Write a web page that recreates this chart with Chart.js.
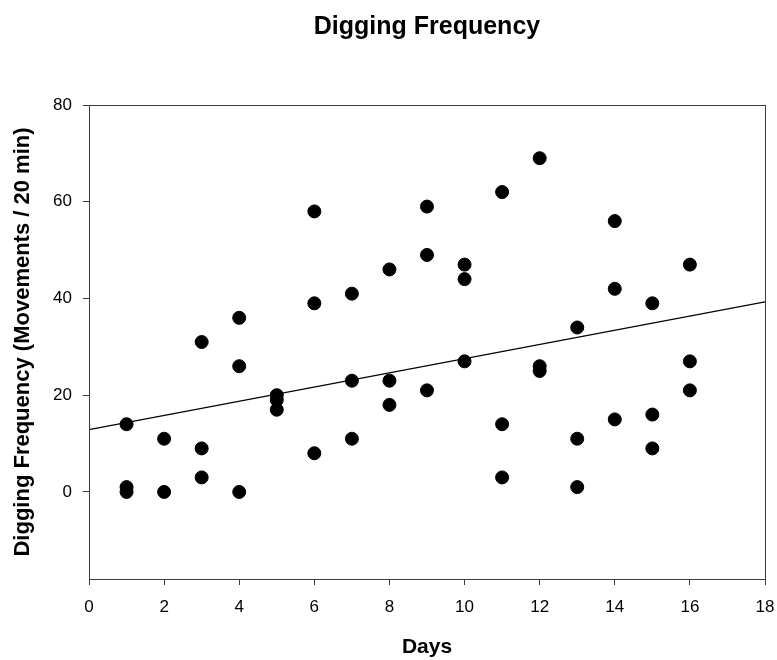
<!DOCTYPE html>
<html>
<head>
<meta charset="utf-8">
<script src="https://cdn.jsdelivr.net/npm/chart.js@4.4.1/dist/chart.umd.min.js"></script>
<style>
  html, body { margin: 0; padding: 0; background: #fff; }
  #wrap { width: 777px; height: 660px; }
</style>
</head>
<body>
<div id="wrap"><canvas id="DiggingChart" width="777" height="660"></canvas></div>
<script>
// Observations: day and digging frequency (movements / 20 min)
const days = [
  1, 1, 1,
  2, 2,
  3, 3, 3,
  4, 4, 4,
  5, 5, 5,
  6, 6, 6,
  7, 7, 7,
  8, 8, 8,
  9, 9, 9,
  10, 10, 10,
  11, 11, 11,
  12, 12, 12,
  13, 13, 13,
  14, 14, 14,
  15, 15, 15,
  16, 16, 16
];
const frequency = [
  14, 1, 0,
  11, 0,
  31, 9, 3,
  36, 26, 0,
  20, 19, 17,
  58, 39, 8,
  41, 23, 11,
  46, 23, 18,
  59, 49, 21,
  47, 44, 27,
  62, 14, 3,
  69, 26, 25,
  34, 11, 1,
  56, 42, 15,
  39, 16, 9,
  47, 27, 21
];

// Regression line end points
const fitX = [0, 18];
const fitY = [12.9, 39.3];

const xTicks = [0, 2, 4, 6, 8, 10, 12, 14, 16, 18];
const yTicks = [0, 20, 40, 60, 80];

const axisColor = '#3a3a3a';
const fontFamily = 'Liberation Sans, Arial, sans-serif';
const tickFont = { family: fontFamily, size: 17 };

// outline the whole plot area (top and right edges too)
const frameBox = {
  id: 'frameBox',
  afterDatasetsDraw(chart) {
    const { ctx, chartArea } = chart;
    ctx.save();
    ctx.strokeStyle = axisColor;
    ctx.lineWidth = 1;
    ctx.strokeRect(chartArea.left + 0.5, chartArea.top + 0.5,
      chartArea.right - chartArea.left, chartArea.bottom - chartArea.top);
    ctx.restore();
  }
};

const points = days.map((d, i) => ({ x: d, y: frequency[i] }));
const fitLine = fitX.map((d, i) => ({ x: d, y: fitY[i] }));

const config = {
  type: 'scatter',
  data: {
    datasets: [
      {
        label: 'Digging',
        data: points,
        backgroundColor: '#000',
        borderColor: '#000',
        pointRadius: 6.5,
        pointHoverRadius: 6.5
      },
      {
        type: 'line',
        label: 'Fit',
        data: fitLine,
        borderColor: '#000',
        borderWidth: 1.2,
        pointRadius: 0,
        fill: false,
        tension: 0
      }
    ]
  },
  options: {
    responsive: false,
    animation: false,
    layout: { padding: { left: 0, right: 12, top: 0, bottom: 0 } },
    plugins: {
      legend: { display: false },
      tooltip: { enabled: false },
      title: { display: false }
    },
    scales: {
      x: {
        type: 'linear',
        position: 'bottom',
        min: 0,
        max: 18,
        afterBuildTicks: (scale) => { scale.ticks = xTicks.map(v => ({ value: v })); },
        afterFit: (scale) => {
          scale.height = 81;
          // the "18" label may hang over the edge, keep the plot width fixed
          scale.paddingLeft = 0;
          scale.paddingRight = 0;
        },
        ticks: { color: '#000', font: tickFont, padding: 12, maxRotation: 0 },
        grid: { display: true, drawOnChartArea: false, drawTicks: true, tickLength: 6, color: axisColor },
        border: { display: true, color: axisColor, width: 1 },
        title: {
          display: true,
          text: 'Days',
          color: '#000',
          font: { family: fontFamily, size: 21, weight: 'bold' },
          padding: { top: 0, bottom: 0 }
        }
      },
      // top axis only carries the chart title, centred over the plot
      top: {
        type: 'linear',
        position: 'top',
        min: 0,
        max: 18,
        afterFit: (scale) => { scale.height = 105; },
        ticks: { display: false },
        grid: { display: false },
        border: { display: false },
        title: {
          display: true,
          text: 'Digging Frequency',
          color: '#000',
          font: { family: fontFamily, size: 25, weight: 'bold' },
          padding: { top: 12, bottom: 0 }
        }
      },
      y: {
        type: 'linear',
        position: 'left',
        min: -18,
        max: 80,
        afterBuildTicks: (scale) => { scale.ticks = yTicks.map(v => ({ value: v })); },
        afterFit: (scale) => { scale.width = 89; },
        ticks: { color: '#000', font: tickFont, padding: 11 },
        grid: { display: true, drawOnChartArea: false, drawTicks: true, tickLength: 6, color: axisColor },
        border: { display: true, color: axisColor, width: 1 },
        title: {
          display: true,
          text: 'Digging Frequency (Movements / 20 min)',
          color: '#000',
          font: { family: fontFamily, size: 22, weight: 'bold' },
          padding: { top: 10, bottom: 0 }
        }
      }
    }
  },
  plugins: [frameBox]
};

const myChart = new Chart(document.getElementById('DiggingChart'), config);
</script>
</body>
</html>
